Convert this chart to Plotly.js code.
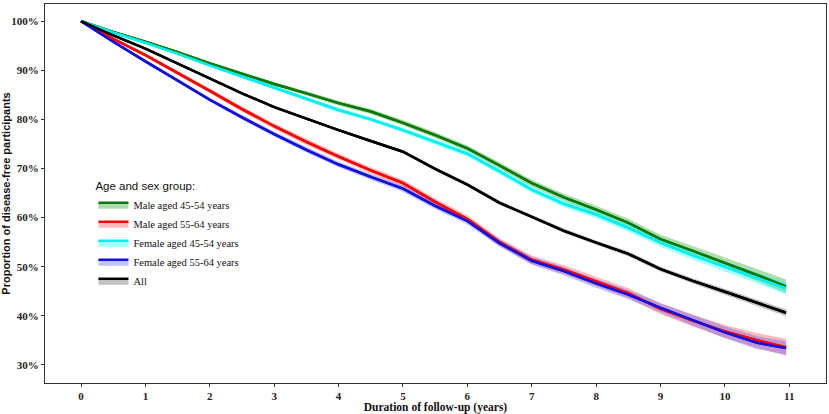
<!DOCTYPE html>
<html>
<head>
<meta charset="utf-8">
<script src="https://cdn.plot.ly/plotly-3.0.1.min.js"></script>
<style>
  html, body { margin: 0; padding: 0; background: #fff; }
  #myDiv { width: 829px; height: 414px; }
</style>
</head>
<body>
<div id="myDiv"></div>
<script>
// follow-up time (years)
var years = [0, 0.5, 1, 1.5, 2, 2.5, 3, 3.5, 4, 4.5, 5, 5.5, 6, 6.5, 7, 7.5, 8, 8.5, 9, 9.5, 10, 10.5, 10.95];

// survival proportions (%)
var male4554   = [100, 97.8, 95.8, 93.7, 91.4, 89.3, 87.2, 85.3, 83.3, 81.6, 79.3, 76.8, 74.1, 70.6, 67.0, 64.1, 61.6, 58.9, 55.6, 53.2, 50.8, 48.3, 46.0];
var male5564   = [100, 96.4, 93.1, 89.5, 85.8, 82.1, 78.6, 75.4, 72.4, 69.6, 67.0, 63.2, 59.7, 55.0, 51.4, 49.4, 47.0, 44.6, 41.4, 39.0, 36.8, 35.0, 33.6];
var female4554 = [100, 97.7, 95.6, 93.4, 91.0, 88.7, 86.5, 84.2, 81.9, 80.0, 77.8, 75.4, 73.0, 69.4, 65.7, 62.8, 60.6, 57.9, 54.9, 52.3, 50.0, 47.6, 45.6];
var female5564 = [100, 95.8, 91.8, 87.9, 84.0, 80.4, 77.0, 73.8, 70.8, 68.3, 65.9, 62.4, 59.3, 54.8, 51.2, 49.1, 46.6, 44.3, 41.6, 39.1, 36.6, 34.5, 33.4];
var allGroups  = [100, 97.1, 94.4, 91.4, 88.3, 85.3, 82.5, 80.1, 77.8, 75.6, 73.4, 69.9, 66.7, 63.0, 60.2, 57.3, 54.9, 52.6, 49.5, 47.1, 44.9, 42.6, 40.6];

// half-width of the shaded confidence band (%)
var male4554CI   = [0, 0.2, 0.25, 0.3, 0.35, 0.4, 0.4, 0.45, 0.5, 0.5, 0.55, 0.6, 0.6, 0.65, 0.7, 0.75, 0.8, 0.85, 0.9, 1.0, 1.1, 1.2, 1.4];
var male5564CI   = [0, 0.25, 0.35, 0.4, 0.45, 0.5, 0.55, 0.6, 0.6, 0.65, 0.7, 0.7, 0.75, 0.8, 0.85, 0.9, 0.95, 1.0, 1.1, 1.2, 1.3, 1.5, 1.7];
var female4554CI = [0, 0.15, 0.2, 0.25, 0.3, 0.35, 0.35, 0.4, 0.45, 0.45, 0.5, 0.55, 0.55, 0.6, 0.65, 0.7, 0.75, 0.8, 0.85, 0.9, 1.0, 1.1, 1.2];
var female5564CI = [0, 0.25, 0.3, 0.35, 0.4, 0.45, 0.5, 0.55, 0.55, 0.6, 0.65, 0.65, 0.7, 0.75, 0.8, 0.85, 0.9, 0.95, 1.0, 1.1, 1.2, 1.3, 1.4];
var allGroupsCI  = [0, 0.1, 0.15, 0.15, 0.2, 0.2, 0.25, 0.25, 0.3, 0.3, 0.3, 0.35, 0.35, 0.4, 0.4, 0.45, 0.45, 0.5, 0.5, 0.55, 0.6, 0.65, 0.7];

var groups = [
  { name: 'Male aged 45-54 years',   y: male4554,   ci: male4554CI,   line: '#0b7a0b', band: 'rgba(40,165,40,0.38)' },
  { name: 'Male aged 55-64 years',   y: male5564,   ci: male5564CI,   line: '#ff0000', band: 'rgba(255,60,60,0.35)' },
  { name: 'Female aged 45-54 years', y: female4554, ci: female4554CI, line: '#00f0f0', band: 'rgba(0,255,255,0.35)' },
  { name: 'Female aged 55-64 years', y: female5564, ci: female5564CI, line: '#1010e0', band: 'rgba(70,70,255,0.33)' },
  { name: 'All',                     y: allGroups,  ci: allGroupsCI,  line: '#000000', band: 'rgba(120,120,120,0.45)' }
];

var data = [];
var overlay = [];
groups.forEach(function (g) {
  var lower = g.y.map(function (v, i) { return v - g.ci[i]; });
  var upper = g.y.map(function (v, i) { return v + g.ci[i]; });
  data.push({
    x: years, y: lower, mode: 'lines', line: { width: 0, color: g.band },
    showlegend: false, hoverinfo: 'skip'
  });
  // main line fills down to the lower bound; shown in legend as box + line
  data.push({
    x: years, y: g.y, mode: 'lines', name: g.name,
    line: { width: 2.5, color: g.line }, fill: 'tonexty', fillcolor: g.band
  });
  data.push({
    x: years, y: upper, mode: 'lines', line: { width: 0, color: g.band },
    fill: 'tonexty', fillcolor: g.band, showlegend: false, hoverinfo: 'skip'
  });
  overlay.push({
    x: years, y: g.y, mode: 'lines', line: { width: 2.5, color: g.line },
    showlegend: false, hoverinfo: 'skip'
  });
});
data = data.concat(overlay);

var tickFont = { family: 'Liberation Serif, Times New Roman, serif', size: 11, color: '#222', weight: 'bold' };

var layout = {
  width: 829,
  height: 414,
  margin: { l: 45, r: 3, t: 4, b: 31 },
  paper_bgcolor: '#fff',
  plot_bgcolor: '#fff',
  showlegend: true,
  legend: {
    x: 0.062, y: 0.548, xanchor: 'left', yanchor: 'top',
    traceorder: 'normal',
    bgcolor: 'rgba(0,0,0,0)',
    title: { text: 'Age and sex group:', font: { family: 'Liberation Sans, Arial, sans-serif', size: 11.5, color: '#111' } },
    font: { family: 'Liberation Serif, Times New Roman, serif', size: 10.5, color: '#111' },
    tracegroupgap: 0,
    itemwidth: 30
  },
  xaxis: {
    range: [-0.56, 11.57],
    tickvals: [0, 1, 2, 3, 4, 5, 6, 7, 8, 9, 10, 11],
    ticks: 'outside', ticklen: 3, tickcolor: '#333',
    showgrid: false, zeroline: false,
    showline: true, mirror: true, linecolor: '#333', linewidth: 1,
    tickfont: tickFont,
    automargin: false,
    title: { text: 'Duration of follow-up (years)', standoff: 0,
      font: { family: 'Liberation Serif, Times New Roman, serif', size: 11.5, color: '#111', weight: 'bold' } }
  },
  yaxis: {
    range: [26.3, 103.5],
    tickvals: [30, 40, 50, 60, 70, 80, 90, 100],
    ticktext: ['30%', '40%', '50%', '60%', '70%', '80%', '90%', '100%'],
    ticks: 'outside', ticklen: 3, tickcolor: '#333',
    showgrid: false, zeroline: false,
    showline: true, mirror: true, linecolor: '#333', linewidth: 1,
    tickfont: tickFont,
    title: { text: 'Proportion of disease-free participants', standoff: 6,
      font: { family: 'Liberation Sans, Arial, sans-serif', size: 11, color: '#111', weight: 'bold' } }
  }
};

Plotly.newPlot('myDiv', data, layout, { displayModeBar: false, staticPlot: true });
</script>
</body>
</html>
